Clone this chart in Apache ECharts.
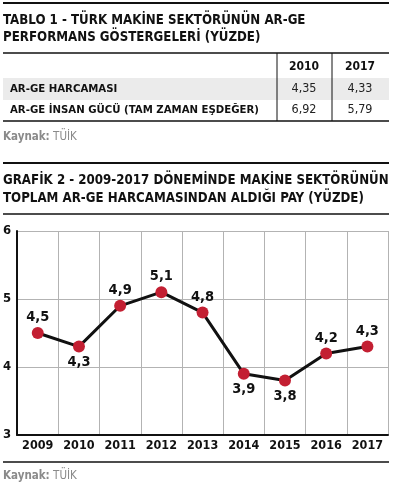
<!DOCTYPE html>
<html lang="tr">
<head>
<meta charset="utf-8">
<title>Makine sektörü AR-GE</title>
<script src="https://cdn.jsdelivr.net/npm/echarts@6/dist/echarts.min.js"></script>
<style>
    html, body { margin: 0; padding: 0; background: #fff; }
    #chart { width: 399px; height: 492px; }
</style>
</head>
<body>
<div id="chart"></div>
<script type="text/javascript">
    // Tablo 1
    var tableYears = ['2010', '2017'];
    var tableRows = ['AR-GE HARCAMASI', 'AR-GE İNSAN GÜCÜ (TAM ZAMAN EŞDEĞER)'];
    var tableValues = [
        [4.35, 4.33],
        [6.92, 5.79]
    ];

    // Grafik 2
    var years = ['2009', '2010', '2011', '2012', '2013', '2014', '2015', '2016', '2017'];
    var share = [4.5, 4.3, 4.9, 5.1, 4.8, 3.9, 3.8, 4.2, 4.3];
    var labelPos = ['top', 'bottom', 'top', 'top', 'top', 'bottom', 'bottom', 'top', 'top'];

    var titleFont = '"DejaVu Sans Condensed", "DejaVu Sans", sans-serif';
    var dark = '#111111';
    var red = '#c31f32';

    function comma(v, d) {
        return v.toFixed(d).replace('.', ',');
    }

    function hline(y, w) {
        return { type: 'line', shape: { x1: 3, y1: y, x2: 389, y2: y }, style: { stroke: dark, lineWidth: w } };
    }

    var graphics = [];
    graphics.push(hline(3, 2));
    graphics.push({ type: 'text', left: 3, top: 12, style: { text: 'TABLO 1 - TÜRK MAKİNE SEKTÖRÜNÜN AR-GE\nPERFORMANS GÖSTERGELERİ (YÜZDE)', font: 'bold 13.2px ' + titleFont, fill: dark, lineHeight: 17 } });
    graphics.push(hline(53, 1.5));
    // ilk satırın gri bandı
    graphics.push({ type: 'rect', shape: { x: 3, y: 78, width: 386, height: 22 }, style: { fill: '#ebebeb' } });
    graphics.push({ type: 'line', shape: { x1: 277, y1: 53, x2: 277, y2: 121 }, style: { stroke: dark, lineWidth: 1 } });
    graphics.push({ type: 'line', shape: { x1: 332, y1: 53, x2: 332, y2: 121 }, style: { stroke: dark, lineWidth: 1 } });
    graphics.push(hline(121, 1.5));

    var colX = [304, 360];
    tableYears.forEach(function (y, i) {
        graphics.push({ type: 'text', x: colX[i], y: 67, style: { text: y, font: 'bold 12px ' + titleFont, fill: dark, align: 'center', verticalAlign: 'middle' } });
    });
    tableRows.forEach(function (r, j) {
        var yy = 89 + j * 21;
        graphics.push({ type: 'text', x: 10, y: yy, style: { text: r, font: 'bold 11.3px ' + titleFont, fill: dark, verticalAlign: 'middle' } });
        tableValues[j].forEach(function (v, i) {
            graphics.push({ type: 'text', x: colX[i], y: yy, style: { text: comma(v, 2), font: '12.5px ' + titleFont, fill: '#222', align: 'center', verticalAlign: 'middle' } });
        });
    });
    function source(y) {
        return {
            type: 'text', x: 3, y: y,
            style: {
                text: '{b|Kaynak:} {n|TÜİK}', verticalAlign: 'middle',
                rich: {
                    b: { font: 'bold 11.5px ' + titleFont, fill: '#8a8a8a' },
                    n: { font: '11.5px ' + titleFont, fill: '#8a8a8a' }
                }
            }
        };
    }
    graphics.push(source(137));

    graphics.push(hline(163, 2));
    graphics.push({ type: 'text', left: 3, top: 172, style: { text: 'GRAFİK 2 - 2009-2017 DÖNEMİNDE MAKİNE SEKTÖRÜNÜN\nTOPLAM AR-GE HARCAMASINDAN ALDIĞI PAY (YÜZDE)', font: 'bold 13.2px ' + titleFont, fill: dark, lineHeight: 18 } });
    graphics.push(hline(214, 1.5));
    graphics.push(hline(462, 1.5));
    graphics.push(source(476));

    var myChart = echarts.init(document.getElementById('chart'), null, { renderer: 'canvas' });
    var option = {
        animation: false,
        backgroundColor: '#fff',
        grid: { left: 17, right: 11, top: 231, bottom: 57, containLabel: false },
        xAxis: {
            type: 'category',
            data: years,
            boundaryGap: true,
            axisLine: { lineStyle: { color: dark, width: 2 } },
            axisTick: { show: false },
            axisLabel: { color: dark, fontFamily: titleFont, fontWeight: 'bold', fontSize: 12.5, margin: 4, interval: 0 },
            splitLine: { show: true, interval: 0, lineStyle: { color: '#b3b3b3', width: 1 } }
        },
        yAxis: {
            type: 'value',
            min: 3,
            max: 6,
            interval: 1,
            axisLine: { show: true, lineStyle: { color: dark, width: 2 } },
            axisTick: { show: false },
            axisLabel: { color: dark, fontFamily: titleFont, fontWeight: 'bold', fontSize: 13, margin: 6 },
            splitLine: { lineStyle: { color: '#b3b3b3', width: 1 } }
        },
        series: [{
            type: 'line',
            data: share.map(function (v, i) {
                return { value: v, label: { position: labelPos[i] } };
            }),
            symbol: 'circle',
            symbolSize: 12,
            itemStyle: { color: red },
            lineStyle: { color: dark, width: 3 },
            label: {
                show: true,
                distance: 2,
                color: dark,
                fontFamily: titleFont,
                fontWeight: 'bold',
                fontSize: 14.5,
                formatter: function (p) { return comma(p.value, 1); }
            },
            z: 3
        }],
        graphic: graphics
    };
    myChart.setOption(option);
</script>
</body>
</html>
